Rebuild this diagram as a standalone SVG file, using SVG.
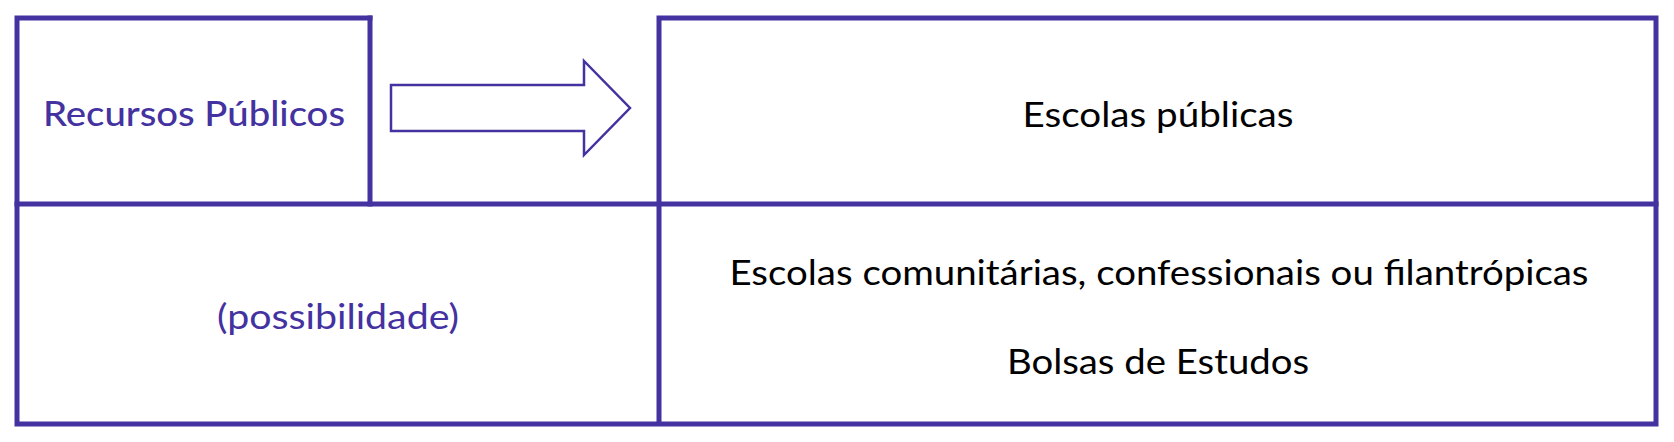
<svg xmlns="http://www.w3.org/2000/svg" width="1674" height="442" viewBox="0 0 1674 442">
<style>
.ln{stroke:#4332a0;stroke-width:5;fill:none;stroke-linecap:square}
.t{font-family:Lato,"Noto Sans","Liberation Sans",sans-serif;font-size:34px;text-anchor:middle}
.p{fill:#4332a0}
.k{fill:#000}
</style>
<rect width="1674" height="442" fill="#fff"/>
<g id="frame">
<path class="ln" d="M370,18 L17,18 L17,424 L1656,424 L1656,18 L659,18 L659,424"/>
<line class="ln" x1="17" y1="204" x2="1656" y2="204"/>
<line class="ln" x1="370" y1="18" x2="370" y2="204"/>
</g>
<g id="recursos">
<text class="t p" x="194" y="126" font-weight="500" textLength="302" lengthAdjust="spacingAndGlyphs">Recursos Públicos</text>
</g>
<g id="connectors">
<path d="M391,85 L584,85 L584,61 L630,108 L584,155 L584,131 L391,131 Z" fill="#fff" stroke="#4332a0" stroke-width="2.5"/>
</g>
<g id="publicas">
<text class="t k" x="1158" y="127" textLength="271" lengthAdjust="spacingAndGlyphs">Escolas públicas</text>
</g>
<g id="possibilidade">
<text class="t p" x="338" y="329" textLength="242" lengthAdjust="spacingAndGlyphs">(possibilidade)</text>
</g>
<g id="privadas">
<text class="t k" x="1159" y="285" textLength="859" lengthAdjust="spacingAndGlyphs">Escolas comunitárias, confessionais ou filantrópicas</text>
<text class="t k" x="1158" y="374" textLength="302" lengthAdjust="spacingAndGlyphs">Bolsas de Estudos</text>
</g>
</svg>
